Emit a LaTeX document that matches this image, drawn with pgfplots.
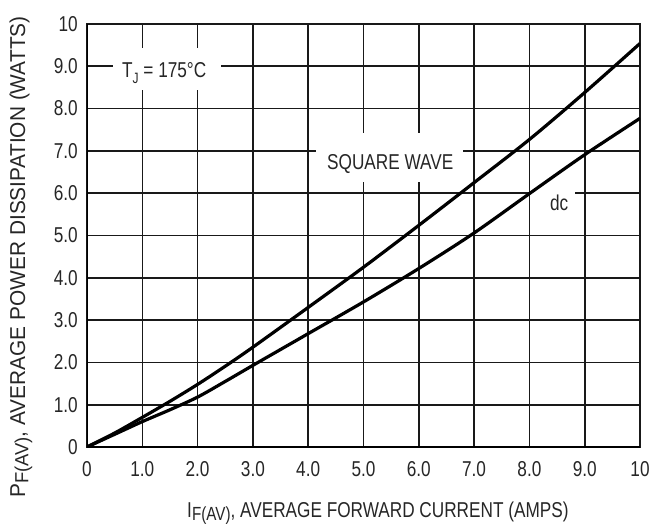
\documentclass[border=0pt]{standalone}
\usepackage{fontspec}
\setmainfont{Liberation Sans}[FakeStretch=0.80]
\newfontfamily\ylabfont{Liberation Sans}[FakeStretch=0.97]
\usepackage{pgfplots}
\pgfplotsset{compat=1.18}

% Average forward power dissipation versus average forward current
\newcommand{\lbl}{\fontsize{21.5}{21.5}\selectfont}

\begin{document}
\begin{tikzpicture}
\begin{axis}[
  at={(0pt,0pt)}, anchor=south west,
  scale only axis,
  width=553pt, height=423pt,
  xmin=0, xmax=10, ymin=0, ymax=10,
  xtick={0,1,2,3,4,5,6,7,8,9,10},
  ytick={0,1,2,3,4,5,6,7,8,9,10},
  xticklabels={0,1.0,2.0,3.0,4.0,5.0,6.0,7.0,8.0,9.0,10},
  yticklabels={0,1.0,2.0,3.0,4.0,5.0,6.0,7.0,8.0,9.0,10},
  grid=major,
  grid style={black!90, line width=1.6pt},
  axis line style={black!90, line width=1.6pt},
  major tick length=0pt,
  /pgf/number format/assume math mode=true,
  tick label style={font=\lbl, inner sep=0pt, text=black!85},
  xticklabel style={anchor=north, yshift=-14pt},
  yticklabel style={anchor=east, xshift=-9pt},
  label style={font=\lbl, inner sep=0pt, text=black!85},
  xlabel={I\raisebox{-0.3ex}{\fontsize{19}{19}\selectfont F(AV)}, AVERAGE FORWARD CURRENT (AMPS)},
  ylabel={\ylabfont P\raisebox{-0.3ex}{\fontsize{19}{19}\selectfont F(AV)}, AVERAGE POWER DISSIPATION (WATTS)},
  xlabel style={at={(axis description cs:0.526,-0.1655)}, anchor=base},
  ylabel style={at={(axis description cs:-0.1121,0.449)}, anchor=base},
]
% white patches that break the grid behind the annotations
\fill[white] (axis cs:0.47,8.44) rectangle (axis cs:2.42,9.43);
\fill[white] (axis cs:4.14,6.26) rectangle (axis cs:6.80,7.42);
\fill[white] (axis cs:8.03,5.45) rectangle (axis cs:8.82,6.15);

\node[anchor=base west, inner sep=0pt, font=\lbl, text=black!85] at (axis cs:0.633,8.73)
  {T\raisebox{-0.5ex}{\fontsize{15}{15}\selectfont J} = 175\textdegree C};
\node[anchor=base west, inner sep=0pt, font=\lbl, text=black!85] at (axis cs:4.34,6.565) {SQUARE WAVE};
\node[anchor=base west, inner sep=0pt, font=\lbl, text=black!85] at (axis cs:8.37,5.60) {dc};

% square wave
\addplot[black, line width=3.2pt, smooth, tension=0.5] coordinates {
  (0,0) (0.5,0.33) (1,0.70) (1.5,1.08) (2,1.48) (2.5,1.91) (3,2.36)
  (4,3.30) (5,4.25) (6,5.24) (7,6.25) (8,7.27) (9,8.38) (10,9.54)
};
% dc
\addplot[black, line width=3.2pt, smooth, tension=0.5] coordinates {
  (0,0) (0.5,0.30) (1,0.60) (1.5,0.88) (2,1.18) (2.5,1.55) (3,1.93)
  (4,2.68) (5,3.43) (6,4.22) (7,5.06) (8,5.99) (9,6.91) (10,7.77)
};

% heavier left and bottom frame
\draw[black, line width=3pt] (rel axis cs:0,1) -- (rel axis cs:0,0) -- (rel axis cs:1,0);
\end{axis}
\pgfresetboundingbox
\useasboundingbox (-87pt,-77pt) rectangle (565pt,447pt);
\end{tikzpicture}
\end{document}
